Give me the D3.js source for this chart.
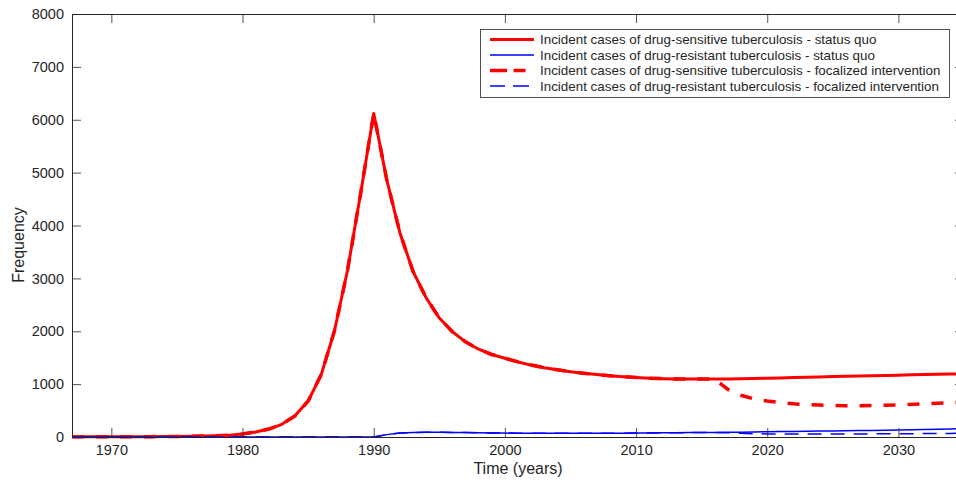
<!DOCTYPE html>
<html><head><meta charset="utf-8">
<script src="https://cdn.jsdelivr.net/npm/d3@7"></script>
<style>
body{margin:0;background:#fff;}
svg text{font-family:"Liberation Sans",Arial,Helvetica,sans-serif;fill:#262626;}
</style></head>
<body><svg id="c" width="956" height="482"></svg>
<script>
const years = d3.range(1967, 2036);
const dsStatusQuo = [5,5,5,5,6,6,7,8,10,13,17,25,35,55,95,150,240,400,680,1180,2000,3150,4600,6120,
  4860,3860,3130,2630,2250,1990,1800,1660,1560,1490,1420,1360,1310,1270,1235,1205,1180,1160,1140,1125,
  1112,1104,1098,1095,1095,1096,1099,1103,1108,1113,1118,1124,1130,1136,1142,1148,1154,1160,1165,1170,
  1175,1180,1185,1190,1195];
const drStatusQuo = [0,0,0,0,0,0,0,0,0,0,0,0,0,0,0,0,0,0,0,0,0,0,0,0,
  45,75,85,88,88,86,83,80,77,74,72,70,69,69,69,70,71,72,73,75,77,79,81,83,85,87,89,92,96,100,
  103,106,109,112,115,118,121,125,128,132,137,142,147,152,157];
const dsIntervention = dsStatusQuo.slice(0, 50).concat([900,790,720,680,650,628,612,603,597,593,592,595,600,607,617,626,637,648,660]);
const drIntervention = drStatusQuo.slice(0, 50).concat([82,70,62,58,56,55,55,56,56,57,58,59,60,62,63,64,66,68,70]);
const yTicks = [0,1000,2000,3000,4000,5000,6000,7000,8000];
const xTicks = [1970,1980,1990,2000,2010,2020,2030];
const seriesNames = [
  "Incident cases of drug-sensitive tuberculosis - status quo",
  "Incident cases of drug-resistant tuberculosis - status quo",
  "Incident cases of drug-sensitive tuberculosis - focalized intervention",
  "Incident cases of drug-resistant tuberculosis - focalized intervention"
];
const seriesData = [dsStatusQuo, drStatusQuo, dsIntervention, drIntervention];
const seriesColor = ["#ff0000","#0000ff","#ff0000","#0000ff"];
const seriesWidth = [3,1.5,3.5,1.5];
const seriesDash = [null,null,"12,12","14,9"];
const legendDash = [null,null,"17,6.5,12,100","15,8,16,100"];

const svg = d3.select("#c");
const L = 72, R = 964, T = 14, B = 437;
const x = d3.scaleLinear().domain([1967, 2035]).range([L, R]);
const y = d3.scaleLinear().domain([0, 8000]).range([B, T]);

// lines
const line = d3.line().x((d,i)=>x(years[i])).y(d=>y(d));
[0,1,2,3].forEach(k=>{
  svg.append("path").datum(seriesData[k])
    .attr("d", line).attr("fill","none")
    .attr("stroke", seriesColor[k]).attr("stroke-width", seriesWidth[k])
    .attr("stroke-dasharray", seriesDash[k])
    .attr("stroke-linejoin","round");
});

// axes (inward ticks, box)
const axCol = "#262626";
const gB = svg.append("g").attr("transform",`translate(0,${B})`)
  .call(d3.axisBottom(x).tickValues(xTicks).tickFormat(d3.format("d")).tickSizeInner(-9).tickSizeOuter(0).tickPadding(8));
const gT = svg.append("g").attr("transform",`translate(0,${T})`)
  .call(d3.axisTop(x).tickValues(xTicks).tickFormat("").tickSizeInner(-9).tickSizeOuter(0));
const gL = svg.append("g").attr("transform",`translate(${L},0)`)
  .call(d3.axisLeft(y).tickValues(yTicks).tickFormat(d3.format("d")).tickSizeInner(-9).tickSizeOuter(0).tickPadding(8));
const gR = svg.append("g").attr("transform",`translate(${R},0)`)
  .call(d3.axisRight(y).tickValues(yTicks).tickFormat("").tickSizeInner(-9).tickSizeOuter(0));
[gB,gT,gL,gR].forEach(g=>{
  g.selectAll("path.domain").attr("stroke",axCol).attr("stroke-width",1);
  g.selectAll(".tick line").attr("stroke",axCol).attr("stroke-width",0.8);
  g.selectAll("text").attr("font-size","14.5px").attr("fill",axCol)
   .attr("font-family","'Liberation Sans',Arial,Helvetica,sans-serif");
});

// axis labels
svg.append("text").attr("x",(L+R)/2).attr("y",474).attr("text-anchor","middle")
  .attr("font-size","16px").text("Time (years)");
svg.append("text").attr("transform","translate(24,245) rotate(-90)").attr("text-anchor","middle")
  .attr("font-size","16px").text("Frequency");

// legend
const lg = svg.append("g");
lg.append("rect").attr("x",480.5).attr("y",29.5).attr("width",469).attr("height",68)
  .attr("fill","#fff").attr("stroke",axCol).attr("stroke-width",0.8);
seriesNames.forEach((n,i)=>{
  const yy = 39.5 + i*15.5;
  lg.append("line").attr("x1",490).attr("x2",534).attr("y1",yy).attr("y2",yy)
    .attr("stroke",seriesColor[i]).attr("stroke-width",seriesWidth[i])
    .attr("stroke-dasharray", legendDash[i]);
  lg.append("text").attr("x",540).attr("y",yy).attr("dy","0.35em")
    .attr("font-size","13.4px").text(n);
});
</script></body></html>
